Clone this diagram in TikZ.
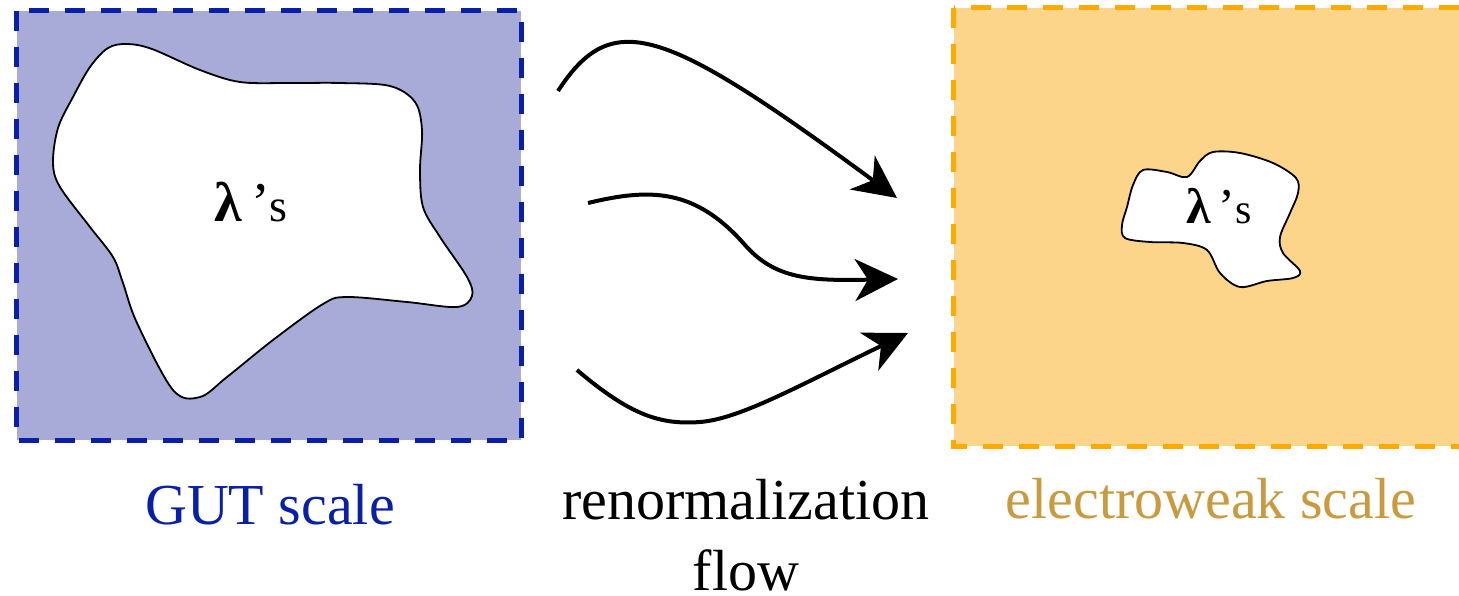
\documentclass[tikz,border=0pt]{standalone}
\usepackage{fontspec}
\setmainfont{Liberation Serif}
\usetikzlibrary{arrows.meta}

\definecolor{gutblue}{HTML}{0A1FA8}
\definecolor{gutfill}{HTML}{A8AAD7}
\definecolor{ewborder}{HTML}{FFAA00}
\definecolor{ewfill}{HTML}{FDD58A}
\definecolor{ewtext}{HTML}{C99A3E}

\newcommand{\lams}[2]{{\fontsize{#1}{#1}\selectfont\bfseries λ\mdseries\,’}{\fontsize{#2}{#2}\selectfont s}}

\tikzset{
  scalebox/.style={line width=5pt, dash pattern=on 20pt off 16pt},
  blob/.style={fill=white, draw=black, line width=1.8pt},
  flowarrow/.style={line width=4pt, -{Stealth[length=43pt,width=42pt,inset=13pt]}},
  biglabel/.style={font=\fontsize{58}{71}\selectfont, inner sep=0pt, anchor=base},
  lamlabel/.style={inner sep=0pt, anchor=base},
}

\begin{document}
\begin{tikzpicture}[x=1pt,y=-1pt]
  \useasboundingbox (0,0) rectangle (1459,595);

  % GUT-scale region
  \fill[gutfill] (16.5,10.5) rectangle (521,440);
  \draw[scalebox, draw=gutblue] (16.5,10.5) rectangle (521,440);

  % electroweak-scale region (runs off the right edge)
  \begin{scope}
    \clip (0,0) rectangle (1459,595);
    \fill[ewfill] (953.5,7.7) rectangle (1470,446);
    \draw[scalebox, draw=ewborder] (953.5,7.7) rectangle (1470,446);
  \end{scope}

  % large coupling region
  \draw[blob] plot[smooth cycle, tension=0.55] coordinates {
    (127,44) (152,49) (200,70) (240,82) (290,83) (340,83) (390,86) (415,102)
    (422,130) (420,170) (423,207) (440,237) (467,277) (472,296) (457,307)
    (407,302) (347,297) (323,304) (273,340) (227,377) (200,397) (173,390)
    (137,323) (123,283) (113,257) (90,227) (60,187) (53,163) (58,128)
    (73,97) (90,67) (108,48)};
  \node[lamlabel] (lamL) at (251,221) {\lams{56}{46}};

  % small coupling region
  \draw[blob] plot[smooth cycle, tension=0.55] coordinates {
    (1143,170) (1167,172) (1187,177) (1200,161) (1213,152) (1240,153)
    (1273,163) (1296,178) (1298,193) (1290,213) (1280,237) (1283,253)
    (1300,271) (1293,278) (1267,281) (1240,287) (1220,273) (1207,250)
    (1183,243) (1150,242) (1125,238) (1122,225) (1127,207) (1133,185)};
  \node[lamlabel] (lamR) at (1219,223) {\lams{50}{42}};

  % flow lines
  \coordinate (a1) at (558,91);  \coordinate (b1) at (897,198);
  \coordinate (a2) at (588,203); \coordinate (m2) at (745,245); \coordinate (b2) at (898,279);
  \coordinate (a3) at (577,370); \coordinate (m3) at (700,422); \coordinate (b3) at (908,333);

  \draw[flowarrow] (a1) .. controls (612,8) and (662,25) .. (b1);
  \draw[flowarrow] (a2) .. controls (650,188) and (695,188) .. (m2)
                        .. controls (775,279) and (810,281) .. (b2);
  \draw[flowarrow] (a3) .. controls (630,415) and (660,425) .. (m3)
                        .. controls (740,419) and (800,385) .. (b3);

  % captions
  \node[biglabel, text=gutblue] (gut) at (270,524) {GUT scale};
  \node[biglabel, align=center, text depth=0pt] (rg) at (746,590) {renormalization\\flow};
  \node[biglabel, text=ewtext] (ew) at (1211,518) {electroweak scale};
\end{tikzpicture}
\end{document}
